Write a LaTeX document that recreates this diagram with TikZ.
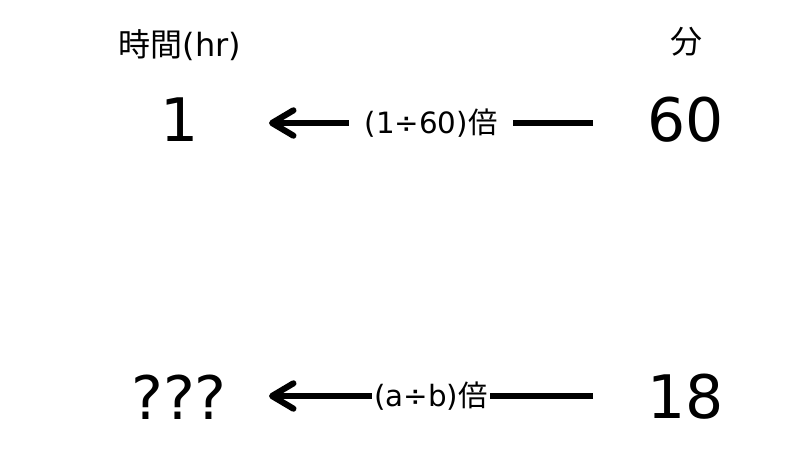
\documentclass[tikz,border=0pt]{standalone}
\usepackage{fontspec}
\setmainfont{DejaVu Sans}
\newfontfamily\jp{Noto Sans CJK JP}
\usetikzlibrary{arrows.meta}
\begin{document}
\begin{tikzpicture}[x=0.75pt,y=-0.75pt,
  head/.style={font=\fontsize{24}{28}\selectfont, inner sep=0pt},
  num/.style={font=\fontsize{45}{50}\selectfont, inner sep=0pt},
  lab/.style={font=\fontsize{22}{26}\selectfont, fill=white, inner ysep=3pt},
  conv/.style={line width=4.6pt, -{Straight Barb[length=16pt,width=19pt,round]}}]
\useasboundingbox[fill=white] (0,0) rectangle (800,450);
\node[head] (hhr) at (180,45) {{\jp 時間}(hr)};
\node[head] (hmin) at (686,42) {{\jp 分}};
\node[num] (one) at (180,120) {1};
\node[num] (sixty) at (686,120) {60};
\node[num] (unk) at (179,397) {???};
\node[num] (eighteen) at (686,397) {18};
\draw[conv] ([shift={(-93,3)}]sixty.center) -- node[lab, inner xsep=12pt]{(1÷60){\jp 倍}} ([shift={(89,3)}]one.center);
\draw[conv] ([shift={(-93,-1)}]eighteen.center) -- node[lab, inner xsep=2pt]{(a÷b){\jp 倍}} ([shift={(90,-1)}]unk.center);
\end{tikzpicture}
\end{document}
